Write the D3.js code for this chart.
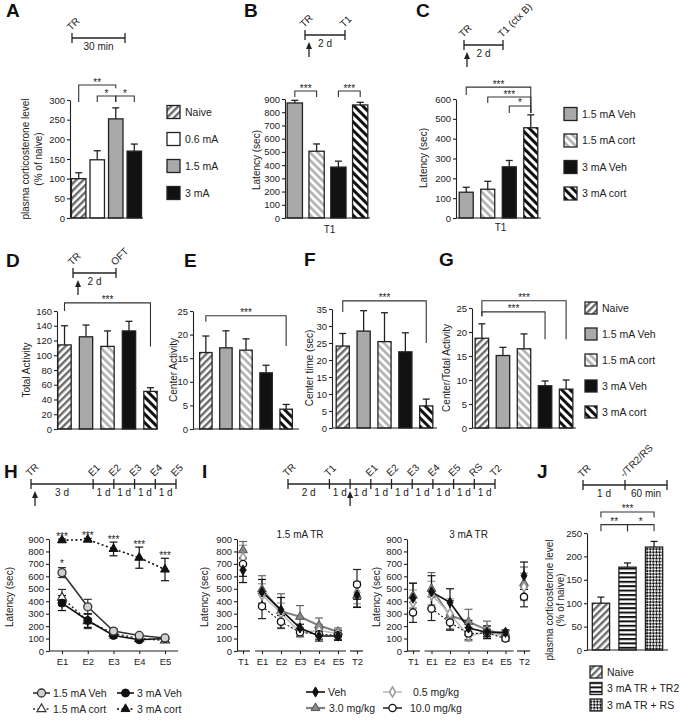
<!DOCTYPE html>
<html><head><meta charset="utf-8">
<script src="https://cdn.jsdelivr.net/npm/d3@7/dist/d3.min.js"></script>
<style>html,body{margin:0;padding:0;background:#fff;} .star{opacity:0.99}</style>
</head><body>
<svg id="fig" width="681" height="720"></svg>
<script>
// ================= DATA =================
const groupsA = ["Naive", "0.6 mA", "1.5 mA", "3 mA"];
const valuesA = [100, 148, 252, 170];
const errorsA = [15, 23, 28, 18];

const groupsBC = ["1.5 mA Veh", "1.5 mA cort", "3 mA Veh", "3 mA cort"];
const valuesB = [870, 505, 385, 855];
const errorsB = [20, 55, 45, 20];
const valuesC = [130, 145, 258, 455];
const errorsC = [25, 40, 32, 65];

const groupsDG = ["Naive", "1.5 mA Veh", "1.5 mA cort", "3 mA Veh", "3 mA cort"];
const valuesD = [114, 125, 112, 133, 51];
const errorsD = [26, 16, 21, 13, 5];
const valuesE = [16.2, 17.2, 16.7, 11.9, 4.2];
const errorsE = [3.5, 3.6, 2.4, 1.6, 1.0];
const valuesF = [24.1, 28.5, 25.4, 22.4, 6.5];
const errorsF = [3.7, 6.0, 8.5, 5.6, 2.0];
const valuesG = [18.7, 15.1, 16.5, 8.8, 8.1];
const errorsG = [3.0, 1.7, 3.1, 1.0, 1.9];

const groupsJ = ["Naive", "3 mA TR + TR2", "3 mA TR + RS"];
const valuesJ = [100, 177, 220];
const errorsJ = [13, 9, 12];

const sessionsH = ["E1", "E2", "E3", "E4", "E5"];
const seriesH = ["1.5 mA Veh", "3 mA Veh", "1.5 mA cort", "3 mA cort"];
const h15Veh = [630, 355, 160, 125, 105];
const h15VehErr = [40, 60, 20, 15, 15];
const h3Veh = [385, 245, 125, 90, 100];
const h3VehErr = [60, 55, 20, 15, 15];
const h15Cort = [430, 240, 140, 100, 85];
const h15CortErr = [65, 60, 20, 15, 15];
const h3Cort = [890, 895, 820, 750, 655];
const h3CortErr = [10, 10, 55, 85, 90];
const starsH3Cort = ["***", "***", "***", "***", "***"];
const starsH15Veh = ["*", "", "", "", ""];

const sessionsI = ["T1", "E1", "E2", "E3", "E4", "E5", "T2"];
const seriesI = ["Veh", "0.5 mg/kg", "3.0 mg/kg", "10.0 mg/kg"];
const i15Veh = [650, 475, 330, 185, 120, 120, 450];
const i15VehErr = [100, 100, 100, 30, 40, 30, 100];
const i15Low = [750, 450, 305, 150, 165, 140, 470];
const i15LowErr = [100, 90, 80, 40, 50, 30, 90];
const i15Mid = [810, 495, 320, 275, 205, 155, 445];
const i15MidErr = [70, 110, 140, 90, 60, 30, 90];
const i15High = [700, 360, 235, 150, 135, 125, 535];
const i15HighErr = [100, 100, 50, 30, 40, 40, 120];
const i3Veh = [425, 475, 390, 185, 150, 150, 605];
const i3VehErr = [120, 130, 110, 60, 50, 20, 110];
const i3Low = [390, 450, 300, 120, 155, 115, 515];
const i3LowErr = [100, 110, 120, 40, 50, 25, 110];
const i3Mid = [445, 500, 285, 235, 170, 130, 545];
const i3MidErr = [100, 130, 120, 100, 70, 30, 130];
const i3High = [310, 340, 230, 140, 145, 100, 435];
const i3HighErr = [80, 95, 60, 50, 30, 20, 80];

// timelines
const tlA = {events: ["TR", ""], times: [0, 30], gaps: ["30 min"]};
const tlB = {events: ["TR", "T1"], times: [0, 2], gaps: ["2 d"]};
const tlC = {events: ["TR", "T1 (ctx B)"], times: [0, 2], gaps: ["2 d"]};
const tlD = {events: ["TR", "OFT"], times: [0, 2], gaps: ["2 d"]};
const tlH = {events: ["TR", "E1", "E2", "E3", "E4", "E5"], times: [0, 3, 4, 5, 6, 7], gaps: ["3 d", "1 d", "1 d", "1 d", "1 d"]};
const tlI = {events: ["TR", "T1", "", "E1", "E2", "E3", "E4", "E5", "RS", "T2"], times: [0, 2, 3, 4, 5, 6, 7, 8, 9, 10], gaps: ["2 d", "1 d", "1 d", "1 d", "1 d", "1 d", "1 d", "1 d", "1 d"]};
const tlJ = {events: ["TR", "-/TR2/RS", ""], times: ["TR", "-/TR2/RS", "end"], gaps: ["1 d", "60 min"]};

// significance brackets: [from, to, label, y, leftLegBottom, rightLegBottom] (data units)
const sigA = [["Naive", "1.5 mA", "**", 338, 295, 330], ["0.6 mA", "1.5 mA", "*", 310, 295, 295], ["1.5 mA", "3 mA", "*", 310, 295, 295]];
const sigB = [["1.5 mA Veh", "1.5 mA cort", "***", 960, 915, 915], ["3 mA Veh", "3 mA cort", "***", 960, 915, 915]];
const sigC = [["1.5 mA Veh", "3 mA cort", "***", 660, 620, 530], ["1.5 mA cort", "3 mA cort", "***", 610, 580, 530], ["3 mA Veh", "3 mA cort", "*", 565, 530, 530]];
const sigD = [["Naive", "3 mA cort", "***", 171, 160, 112]];
const sigE = [["Naive", "3 mA cort", "***", 24, 22.7, 17.6]];
const sigF = [["Naive", "3 mA cort", "***", 37.4, 34.1, 25]];
const sigG = [["Naive", "3 mA cort", "***", 26.5, 23.3, 18.5], ["Naive", "3 mA Veh", "***", 24.2, 23.3, 18.5]];
const sigJ = [["Naive", "3 mA TR + RS", "***", 295, 283, 283], ["Naive", "3 mA TR + TR2", "**", 268, 254, 254], ["3 mA TR + TR2", "3 mA TR + RS", "*", 268, 254, 254]];

// ================= DRAWING =================
const FONT = "'Liberation Sans', Arial, Helvetica, sans-serif";
const INK = "#222";
const svg = d3.select("#fig").attr("font-family", FONT);
svg.append("rect").attr("width", 681).attr("height", 720).attr("fill", "#fff");
const defs = svg.append("defs");

function stripe(id, angle, color, w, size) {
  const p = defs.append("pattern").attr("id", id).attr("patternUnits", "userSpaceOnUse")
    .attr("width", size).attr("height", size).attr("patternTransform", `rotate(${angle})`);
  p.append("rect").attr("width", size).attr("height", size).attr("fill", "#fff");
  p.append("rect").attr("width", w).attr("height", size).attr("fill", color);
}
stripe("pNaive", 45, "#6a6a6a", 2.4, 5);
stripe("pCort15", -45, "#b5b5b5", 2.8, 5.5);
stripe("pCort3", -45, "#111", 3.0, 6);
stripe("pHoriz", 90, "#111", 2.0, 4.4);
{
  const p = defs.append("pattern").attr("id", "pCheck").attr("patternUnits", "userSpaceOnUse")
    .attr("width", 4.4).attr("height", 4.4).attr("patternTransform", "rotate(45)");
  p.append("rect").attr("width", 4.4).attr("height", 4.4).attr("fill", "#fff");
  p.append("rect").attr("width", 2.2).attr("height", 2.2).attr("fill", "#111");
  p.append("rect").attr("x", 2.2).attr("y", 2.2).attr("width", 2.2).attr("height", 2.2).attr("fill", "#111");
}
const fills = {
  "Naive": "url(#pNaive)", "0.6 mA": "#fff", "1.5 mA": "#a9a9a9", "3 mA": "#111",
  "1.5 mA Veh": "#a9a9a9", "1.5 mA cort": "url(#pCort15)", "3 mA Veh": "#111", "3 mA cort": "url(#pCort3)",
  "3 mA TR + TR2": "url(#pHoriz)", "3 mA TR + RS": "url(#pCheck)"
};

function text(g, x, y, s, size, anchor = "start", extra = {}) {
  const t = g.append("text").attr("x", x).attr("y", y).text(s).attr("font-size", size)
    .attr("fill", INK).attr("text-anchor", anchor).attr("font-family", FONT);
  for (const k in extra) t.attr(k, extra[k]);
  return t;
}
function panelLetter(ch, x, y) {
  text(svg, x, y, ch, 19, "start", {"font-weight": "bold", "fill": "#111"});
}
function yAxis(g, y, x0, ticks) {
  const ax = g.append("g").attr("transform", `translate(${x0},0)`)
    .call(d3.axisLeft(y).tickValues(ticks).tickSize(3).tickSizeOuter(0).tickPadding(2));
  ax.attr("font-family", FONT);
  ax.selectAll("text").attr("font-size", 9.5).attr("fill", INK);
  ax.selectAll("line,path").attr("stroke", INK).attr("stroke-width", 1.1);
}
function yLabel(g, lines, xs, cy) {
  lines.forEach((l, i) => {
    g.append("text").attr("transform", `translate(${xs[i]},${cy}) rotate(-90)`)
      .attr("text-anchor", "middle").attr("font-size", 10).attr("fill", INK).text(l);
  });
}

function barPanel(o) {
  const g = svg.append("g");
  const x = d3.scaleBand().domain(o.cats).range(o.xr).paddingInner(o.pi).paddingOuter(o.po);
  const y = d3.scaleLinear().domain([0, o.max]).range(o.yr);
  const cx = c => x(c) + x.bandwidth() / 2;
  o.cats.forEach((c, i) => {
    const top = y(o.vals[i] + o.errs[i]);
    g.append("line").attr("x1", cx(c)).attr("x2", cx(c)).attr("y1", y(o.vals[i])).attr("y2", top)
      .attr("stroke", INK).attr("stroke-width", 1.3);
    g.append("line").attr("x1", cx(c) - 3.5).attr("x2", cx(c) + 3.5).attr("y1", top).attr("y2", top)
      .attr("stroke", INK).attr("stroke-width", 1.3);
  });
  g.selectAll("rect.bar").data(o.cats).join("rect").attr("class", "bar")
    .attr("x", c => x(c)).attr("y", (c, i) => y(o.vals[i]))
    .attr("width", x.bandwidth()).attr("height", (c, i) => y(0) - y(o.vals[i]))
    .attr("fill", c => fills[c]).attr("stroke", INK).attr("stroke-width", 1.3);
  yAxis(g, y, o.xr[0], d3.range(0, o.max + 1e-9, o.step));
  g.append("line").attr("x1", o.xr[0]).attr("x2", o.xr[1]).attr("y1", y(0)).attr("y2", y(0))
    .attr("stroke", INK).attr("stroke-width", 1.2);
  (o.sig || []).forEach(([a, b, lab, yy, lb, rb]) => {
    const x1 = cx(a), x2 = cx(b);
    g.append("path").attr("d", `M${x1},${y(lb)}V${y(yy)}H${x2}V${y(rb)}`)
      .attr("fill", "none").attr("stroke", "#333").attr("stroke-width", 1.1);
    text(g, (x1 + x2) / 2, y(yy) + 0.5, lab, 10, "middle", {"class": "star"});
  });
  yLabel(g, o.ylab, o.ylabX, o.ylabY);
  if (o.xlab) text(g, (o.xr[0] + o.xr[1]) / 2 + 2, o.xlabY, o.xlab, 10, "middle");
  return {x, y};
}

function timeline(tl, scale, yLine, arrowAt, arrowDx) {
  const g = svg.append("g");
  const xs = tl.times.map(t => scale(t));
  g.append("line").attr("x1", xs[0]).attr("x2", xs[xs.length - 1]).attr("y1", yLine).attr("y2", yLine)
    .attr("stroke", INK).attr("stroke-width", 1.3);
  xs.forEach((xx, i) => {
    g.append("line").attr("x1", xx).attr("x2", xx).attr("y1", yLine - 5).attr("y2", yLine + 5)
      .attr("stroke", INK).attr("stroke-width", 1.3);
    if (tl.events[i]) {
      g.append("text").attr("transform", `translate(${xx - 1},${yLine - 7}) rotate(-45)`)
        .attr("font-size", 10).attr("fill", INK).text(tl.events[i]);
    }
  });
  tl.gaps.forEach((lab, i) => text(g, (xs[i] + xs[i + 1]) / 2, yLine + 12, lab, 10, "middle"));
  if (arrowAt !== null && arrowAt !== undefined) {
    const ax = scale(arrowAt) + arrowDx;
    g.append("line").attr("x1", ax).attr("x2", ax).attr("y1", yLine + 22).attr("y2", yLine + 12)
      .attr("stroke", INK).attr("stroke-width", 1.3);
    g.append("path").attr("d", `M${ax},${yLine + 7}L${ax - 3},${yLine + 14}L${ax + 3},${yLine + 14}Z`).attr("fill", INK);
  }
}

function legendBoxes(cats, x, y0, step, size) {
  const g = svg.append("g");
  cats.forEach((c, i) => {
    const yy = y0 + i * step;
    g.append("rect").attr("x", x).attr("y", yy - size / 2).attr("width", size).attr("height", size)
      .attr("fill", fills[c]).attr("stroke", INK).attr("stroke-width", 1.3);
    text(g, x + size + 5, yy + 3.8, c, 10.5);
  });
}

function marker(g, kind, cx, cy) {
  const tri = d3.symbol().type(d3.symbolTriangle).size(34)();
  const dia = d3.symbol().type(d3.symbolDiamond).size(30)();
  const m = {
    circleGray: () => g.append("circle").attr("r", 4).attr("fill", "#d0d0d0").attr("stroke", "#333").attr("stroke-width", 1.3),
    circleBlack: () => g.append("circle").attr("r", 4).attr("fill", "#111").attr("stroke", "#111"),
    triOpen: () => g.append("path").attr("d", tri).attr("fill", "#fff").attr("stroke", "#333").attr("stroke-width", 1.2),
    triBlack: () => g.append("path").attr("d", tri).attr("fill", "#111").attr("stroke", "#111"),
    diaBlack: () => g.append("path").attr("d", dia).attr("fill", "#111").attr("stroke", "#111"),
    diaGray: () => g.append("path").attr("d", dia).attr("fill", "#fff").attr("stroke", "#999").attr("stroke-width", 1.5),
    triGray: () => g.append("path").attr("d", tri).attr("fill", "#888").attr("stroke", "#555").attr("stroke-width", 1),
    circleOpen: () => g.append("circle").attr("r", 3.6).attr("fill", "#fff").attr("stroke", "#111").attr("stroke-width", 1.3)
  }[kind]();
  if (m.node().tagName === "circle") m.attr("cx", cx).attr("cy", cy);
  else m.attr("transform", `translate(${cx},${cy})`);
}

function lineAxes(g, x, y, axX, segs) {
  yAxis(g, y, axX, d3.range(0, 901, 100));
  const xa = g.append("g").attr("transform", `translate(0,${y(0)})`)
    .call(d3.axisBottom(x).tickSize(3).tickSizeOuter(0).tickPadding(4));
  xa.attr("font-family", FONT);
  xa.select(".domain").remove();
  xa.selectAll("text").attr("font-size", 9.5).attr("fill", INK);
  xa.selectAll("line").attr("stroke", INK).attr("stroke-width", 1.1);
  segs.forEach(([a, b]) => g.append("line").attr("x1", a).attr("x2", b).attr("y1", y(0)).attr("y2", y(0))
    .attr("stroke", INK).attr("stroke-width", 1.2));
}

function errBar(g, x, yTop, yBot, color) {
  g.append("line").attr("x1", x).attr("x2", x).attr("y1", yTop).attr("y2", yBot).attr("stroke", color).attr("stroke-width", 1.2);
  [yTop, yBot].forEach(v => g.append("line").attr("x1", x - 4).attr("x2", x + 4).attr("y1", v).attr("y2", v)
    .attr("stroke", color).attr("stroke-width", 1.2));
}

// ---------- Panel A ----------
panelLetter("A", 6, 17);
timeline(tlA, d3.scaleLinear().domain([0, 30]).range([72, 125]), 38, null, 0);
barPanel({cats: groupsA, vals: valuesA, errs: errorsA, xr: [70, 143], pi: 0.22, po: 0.08, max: 300, step: 50,
  yr: [218, 100], sig: sigA, ylab: ["plasma corticosterone level", "(% of naive)"], ylabX: [29, 42], ylabY: 159});
legendBoxes(groupsA, 167, 112, 27, 13);

// ---------- Panel B ----------
panelLetter("B", 244, 17);
timeline(tlB, d3.scaleLinear().domain([0, 2]).range([305, 345]), 35, 0, 4);
barPanel({cats: groupsBC, vals: valuesB, errs: errorsB, xr: [285, 370], pi: 0.3, po: 0.1, max: 900, step: 100,
  yr: [218, 99], sig: sigB, ylab: ["Latency (sec)"], ylabX: [260], ylabY: 160, xlab: "T1", xlabY: 233});

// ---------- Panel C ----------
panelLetter("C", 416, 17);
timeline(tlC, d3.scaleLinear().domain([0, 2]).range([464, 503]), 45, 0, 3);
barPanel({cats: groupsBC, vals: valuesC, errs: errorsC, xr: [456, 541], pi: 0.35, po: 0.15, max: 600, step: 100,
  yr: [218, 99], sig: sigC, ylab: ["Latency (sec)"], ylabX: [427], ylabY: 158, xlab: "T1", xlabY: 231});
legendBoxes(groupsBC, 564, 114, 26.5, 13);

// ---------- Panel D ----------
panelLetter("D", 6, 267);
timeline(tlD, d3.scaleLinear().domain([0, 2]).range([73, 116]), 273, 0, 5);
barPanel({cats: groupsDG, vals: valuesD, errs: errorsD, xr: [57, 158], pi: 0.38, po: 0.04, max: 160, step: 20,
  yr: [429, 311], sig: sigD, ylab: ["Total Activity"], ylabX: [30], ylabY: 370});

// ---------- Panel E ----------
panelLetter("E", 184, 267);
barPanel({cats: groupsDG, vals: valuesE, errs: errorsE, xr: [193, 299], pi: 0.38, po: 0.33, max: 25, step: 5,
  yr: [429, 311], sig: sigE, ylab: ["Center Activity"], ylabX: [177], ylabY: 370});

// ---------- Panel F ----------
panelLetter("F", 304, 266);
barPanel({cats: groupsDG, vals: valuesF, errs: errorsF, xr: [332, 437], pi: 0.37, po: 0.2, max: 35, step: 5,
  yr: [428, 309], sig: sigF, ylab: ["Center time (sec)"], ylabX: [313], ylabY: 368});

// ---------- Panel G ----------
panelLetter("G", 439, 266);
barPanel({cats: groupsDG, vals: valuesG, errs: errorsG, xr: [472, 576], pi: 0.36, po: 0.15, max: 25, step: 5,
  yr: [428, 308], sig: sigG, ylab: ["Center/Total Activity"], ylabX: [450], ylabY: 368});
legendBoxes(groupsDG, 585, 308, 26, 12);

// ---------- Panel H ----------
panelLetter("H", 4, 478);
timeline(tlH, d3.scaleLinear().domain([0, 7]).range([31, 176]), 484, 0, 4);
{
  const g = svg.append("g");
  const x = d3.scalePoint().domain(sessionsH).range([62, 165]);
  const y = d3.scaleLinear().domain([0, 900]).range([651, 539]);
  lineAxes(g, x, y, 49, [[49, 178]]);
  yLabel(g, ["Latency (sec)"], [13], 597);
  const defsH = [
    {vals: h3Cort, errs: h3CortErr, color: "#111", dash: "2,2.5", mk: "triBlack"},
    {vals: h15Cort, errs: h15CortErr, color: "#333", dash: "2,2.5", mk: "triOpen"},
    {vals: h3Veh, errs: h3VehErr, color: "#111", dash: null, mk: "circleBlack"},
    {vals: h15Veh, errs: h15VehErr, color: "#333", dash: null, mk: "circleGray"}
  ];
  defsH.forEach(s => {
    const line = d3.line().x((d, i) => x(sessionsH[i])).y(d => y(d));
    g.append("path").attr("d", line(s.vals)).attr("fill", "none").attr("stroke", s.color)
      .attr("stroke-width", 1.6).attr("stroke-dasharray", s.dash);
    s.vals.forEach((v, i) => errBar(g, x(sessionsH[i]), y(v + s.errs[i]), y(v - s.errs[i]), s.color));
  });
  defsH.forEach(s => s.vals.forEach((v, i) => marker(g, s.mk, x(sessionsH[i]), y(v))));
  starsH3Cort.forEach((s, i) => { if (s) text(g, x(sessionsH[i]), y(h3Cort[i] + h3CortErr[i]) + 0.5, s, 10, "middle", {"class": "star"}); });
  starsH15Veh.forEach((s, i) => { if (s) text(g, x(sessionsH[i]), y(h15Veh[i] + h15VehErr[i]) - 1, s, 10, "middle", {"class": "star"}); });
  const leg = [
    {name: seriesH[0], x: 33, y: 693, dash: null, mk: "circleGray", c: "#333"},
    {name: seriesH[1], x: 117, y: 693, dash: null, mk: "circleBlack", c: "#111"},
    {name: seriesH[2], x: 33, y: 709, dash: "2,2.5", mk: "triOpen", c: "#333"},
    {name: seriesH[3], x: 117, y: 709, dash: "2,2.5", mk: "triBlack", c: "#111"}
  ];
  leg.forEach(l => {
    g.append("line").attr("x1", l.x).attr("x2", l.x + 17).attr("y1", l.y).attr("y2", l.y)
      .attr("stroke", l.c).attr("stroke-width", 1.6).attr("stroke-dasharray", l.dash);
    marker(g, l.mk, l.x + 8.5, l.y);
    text(g, l.x + 20, l.y + 3.6, l.name, 10.5);
  });
}

// ---------- Panel I ----------
panelLetter("I", 202, 478);
timeline(tlI, d3.scaleLinear().domain([0, 10]).range([288, 495]), 484, 3, 0);
function panelI(o) {
  const g = svg.append("g");
  const x = d3.scalePoint().domain(sessionsI).range(o.xr);
  const y = d3.scaleLinear().domain([0, 900]).range([651, 539]);
  lineAxes(g, x, y, o.ax, [[o.ax, x("T1") + 7], [x("E1") - 7, x("E5") + 8], [x("T2") - 7, x("T2") + 6]]);
  yLabel(g, ["Latency (sec)"], [o.ylabX], 597);
  text(g, (x("E1") + x("E5")) / 2, 538, o.title, 10, "middle");
  const ser = [
    {vals: o.mid, errs: o.midE, color: "#808080", ec: "#666", w: 2, dash: null, mk: "triGray"},
    {vals: o.low, errs: o.lowE, color: "#bdbdbd", ec: "#999", w: 1.6, dash: null, mk: "diaGray"},
    {vals: o.high, errs: o.highE, color: "#111", ec: "#222", w: 1.1, dash: "2,2", mk: "circleOpen"},
    {vals: o.veh, errs: o.vehE, color: "#111", ec: "#111", w: 1.6, dash: null, mk: "diaBlack"}
  ];
  const eIdx = [1, 2, 3, 4, 5];
  ser.forEach(s => {
    const line = d3.line().x(i => x(sessionsI[i])).y(i => y(s.vals[i]));
    g.append("path").attr("d", line(eIdx)).attr("fill", "none").attr("stroke", s.color)
      .attr("stroke-width", s.w).attr("stroke-dasharray", s.dash);
    s.vals.forEach((v, i) => errBar(g, x(sessionsI[i]), y(v + s.errs[i]), y(v - s.errs[i]), s.ec));
  });
  ser.forEach(s => s.vals.forEach((v, i) => marker(g, s.mk, x(sessionsI[i]), y(v))));
}
panelI({xr: [243, 357], ax: 237, ylabX: 208, title: "1.5 mA TR",
  veh: i15Veh, vehE: i15VehErr, low: i15Low, lowE: i15LowErr, mid: i15Mid, midE: i15MidErr, high: i15High, highE: i15HighErr});
panelI({xr: [413, 524], ax: 407, ylabX: 380, title: "3 mA TR",
  veh: i3Veh, vehE: i3VehErr, low: i3Low, lowE: i3LowErr, mid: i3Mid, midE: i3MidErr, high: i3High, highE: i3HighErr});
{
  const g = svg.append("g");
  const leg = [
    {name: seriesI[0], x: 306, y: 692, c: "#111", w: 1.6, mk: "diaBlack", tx: 22},
    {name: seriesI[1], x: 383, y: 692, c: "#bdbdbd", w: 1.6, mk: "diaGray", tx: 30},
    {name: seriesI[2], x: 306, y: 708, c: "#808080", w: 2.2, mk: "triGray", tx: 23},
    {name: seriesI[3], x: 383, y: 708, c: "#111", w: 1.4, mk: "circleOpen", tx: 27}
  ];
  leg.forEach(l => {
    g.append("line").attr("x1", l.x).attr("x2", l.x + 19).attr("y1", l.y).attr("y2", l.y)
      .attr("stroke", l.c).attr("stroke-width", l.w);
    marker(g, l.mk, l.x + 9.5, l.y);
    text(g, l.x + l.tx, l.y + 3.6, l.name, 10.5);
  });
}

// ---------- Panel J ----------
panelLetter("J", 537, 478);
timeline(tlJ, d3.scalePoint().domain(tlJ.times).range([583, 667]), 485, null, 0);
barPanel({cats: groupsJ, vals: valuesJ, errs: errorsJ, xr: [587, 668], pi: 0.35, po: 0.2, max: 250, step: 50,
  yr: [650, 533], sig: sigJ, ylab: ["plasma corticosterone level", "(% of naive)"], ylabX: [553, 564], ylabY: 600});
legendBoxes(groupsJ, 590, 672, 16.5, 12);
</script>
</body></html>
